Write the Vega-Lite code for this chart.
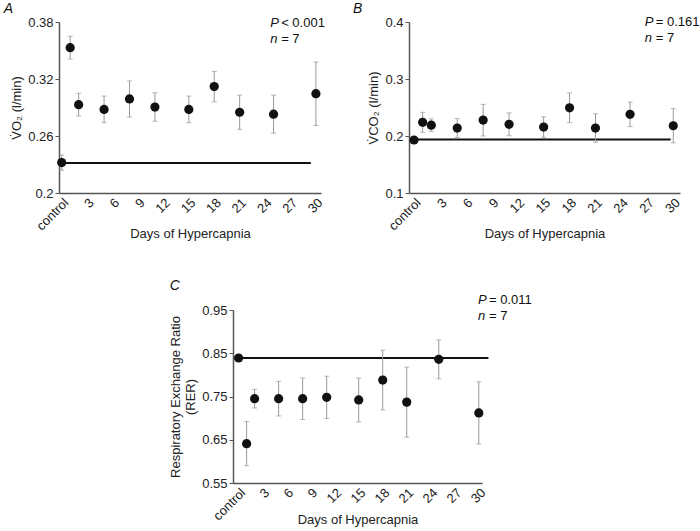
{
  "$schema": "https://vega.github.io/schema/vega-lite/v6.json",
  "padding": {"left": 3, "top": 2, "right": 0, "bottom": 0},
  "background": "white",
  "config": {
    "view": {"stroke": null},
    "font": "Liberation Sans",
    "axis": {"grid": false, "domainColor": "#555", "domainWidth": 1.5, "tickColor": "#555", "labelFont": "Liberation Sans", "labelFontSize": 13, "labelColor": "#222", "titleFont": "Liberation Sans", "titleFontSize": 13, "titleFontWeight": "normal", "titleColor": "#222"},
    "axisX": {"ticks": false, "labelAngle": -45, "labelPadding": 3, "titlePadding": -5},
    "axisY": {"tickSize": 4, "labelPadding": 2, "format": ".2~f"},
    "title": {"font": "Liberation Sans", "fontStyle": "italic", "fontWeight": "normal", "fontSize": 14, "anchor": "start", "frame": "bounds", "color": "#111"}
  },
  "datasets": {
    "ptsA": [
      {"day": 0, "val": 0.232, "lo": 0.224, "hi": 0.240},
      {"day": 1, "val": 0.353, "lo": 0.341, "hi": 0.365},
      {"day": 2, "val": 0.293, "lo": 0.281, "hi": 0.305},
      {"day": 5, "val": 0.288, "lo": 0.274, "hi": 0.302},
      {"day": 8, "val": 0.299, "lo": 0.280, "hi": 0.318},
      {"day": 11, "val": 0.2905, "lo": 0.2755, "hi": 0.3055},
      {"day": 15, "val": 0.288, "lo": 0.274, "hi": 0.302},
      {"day": 18, "val": 0.312, "lo": 0.296, "hi": 0.328},
      {"day": 21, "val": 0.285, "lo": 0.267, "hi": 0.303},
      {"day": 25, "val": 0.283, "lo": 0.263, "hi": 0.303},
      {"day": 30, "val": 0.3045, "lo": 0.271, "hi": 0.338}
    ],
    "ptsB": [
      {"day": 0, "val": 0.193, "lo": 0.189, "hi": 0.197},
      {"day": 1, "val": 0.224, "lo": 0.2065, "hi": 0.2415},
      {"day": 2, "val": 0.219, "lo": 0.208, "hi": 0.230},
      {"day": 5, "val": 0.214, "lo": 0.1975, "hi": 0.2305},
      {"day": 8, "val": 0.228, "lo": 0.200, "hi": 0.2555},
      {"day": 11, "val": 0.2205, "lo": 0.2005, "hi": 0.2405},
      {"day": 15, "val": 0.2157, "lo": 0.1977, "hi": 0.2337},
      {"day": 18, "val": 0.2495, "lo": 0.2235, "hi": 0.2755},
      {"day": 21, "val": 0.214, "lo": 0.189, "hi": 0.239},
      {"day": 25, "val": 0.238, "lo": 0.2165, "hi": 0.2595},
      {"day": 30, "val": 0.218, "lo": 0.188, "hi": 0.248}
    ],
    "ptsC": [
      {"day": 0, "val": 0.839, "lo": 0.834, "hi": 0.844},
      {"day": 1, "val": 0.641, "lo": 0.590, "hi": 0.692},
      {"day": 2, "val": 0.745, "lo": 0.7235, "hi": 0.7665},
      {"day": 5, "val": 0.745, "lo": 0.705, "hi": 0.785},
      {"day": 8, "val": 0.745, "lo": 0.697, "hi": 0.793},
      {"day": 11, "val": 0.748, "lo": 0.699, "hi": 0.797},
      {"day": 15, "val": 0.742, "lo": 0.691, "hi": 0.793},
      {"day": 18, "val": 0.788, "lo": 0.719, "hi": 0.857},
      {"day": 21, "val": 0.737, "lo": 0.656, "hi": 0.818},
      {"day": 25, "val": 0.836, "lo": 0.791, "hi": 0.881},
      {"day": 30, "val": 0.712, "lo": 0.640, "hi": 0.784}
    ],
    "base": [
      {"panel": "A", "day": 0, "day2": 29.4, "val": 0.2315},
      {"panel": "B", "day": 0, "day2": 29.7, "val": 0.194},
      {"panel": "C", "day": 0, "day2": 31.2, "val": 0.839}
    ],
    "ann": [
      {"panel": "A", "day": 24.6, "val": 0.379, "ital": "P", "rest": "< 0.001"},
      {"panel": "A", "day": 24.6, "val": 0.3626, "ital": "n", "rest": "= 7"},
      {"panel": "B", "day": 26.7, "val": 0.4, "ital": "P", "rest": "= 0.161"},
      {"panel": "B", "day": 26.7, "val": 0.372, "ital": "n", "rest": "= 7"},
      {"panel": "C", "day": 29.9, "val": 0.973, "ital": "P", "rest": "= 0.011"},
      {"panel": "C", "day": 29.9, "val": 0.936, "ital": "n", "rest": "= 7"}
    ]
  },
  "bounds": "flush",
  "spacing": 288,
  "vconcat": [
    {
      "bounds": "flush",
      "spacing": 88,
      "hconcat": [
        {
          "width": 262, "height": 171,
          "title": {"text": "A", "dx": -7, "offset": 0},
          "encoding": {
            "x": {"field": "day", "type": "quantitative", "title": "Days of Hypercapnia", "scale": {"domain": [-0.32, 30.6], "nice": false, "zero": false}, "axis": {"values": [0, 3, 6, 9, 12, 15, 18, 21, 24, 27, 30], "labelExpr": "datum.value === 0 ? 'control' : datum.label"}},
            "y": {"field": "val", "type": "quantitative", "title": "V\u0307O\u2082 (l/min)", "scale": {"domain": [0.2, 0.38], "nice": false, "zero": false}, "axis": {"values": [0.2, 0.26, 0.32, 0.38]}}
          },
          "layer": [
            {"data": {"name": "base"}, "transform": [{"filter": "datum.panel === 'A'"}], "mark": {"type": "rule", "color": "#111", "strokeWidth": 2}, "encoding": {"x2": {"field": "day2"}}},
            {"data": {"name": "ptsA"}, "mark": {"type": "errorbar", "color": "#999", "thickness": 1, "ticks": {"size": 5, "color": "#999", "thickness": 1}}, "encoding": {"y": {"field": "lo", "type": "quantitative", "title": "V\u0307O\u2082 (l/min)"}, "y2": {"field": "hi"}}},
            {"data": {"name": "ptsA"}, "mark": {"type": "circle", "size": 85, "color": "#111", "opacity": 1}},
            {"data": {"name": "ann"}, "transform": [{"filter": "datum.panel === 'A'"}], "mark": {"type": "text", "align": "left", "baseline": "middle", "fontSize": 13, "fontStyle": "italic", "color": "#111"}, "encoding": {"text": {"field": "ital"}}},
            {"data": {"name": "ann"}, "transform": [{"filter": "datum.panel === 'A'"}], "mark": {"type": "text", "align": "left", "baseline": "middle", "fontSize": 13, "dx": 11, "color": "#111"}, "encoding": {"text": {"field": "rest"}}}
          ]
        },
        {
          "width": 271, "height": 171,
          "title": {"text": "B", "dx": -15, "offset": 0},
          "encoding": {
            "x": {"field": "day", "type": "quantitative", "title": "Days of Hypercapnia", "scale": {"domain": [-0.58, 30.78], "nice": false, "zero": false}, "axis": {"values": [0, 3, 6, 9, 12, 15, 18, 21, 24, 27, 30], "labelExpr": "datum.value === 0 ? 'control' : datum.label"}},
            "y": {"field": "val", "type": "quantitative", "title": "V\u0307CO\u2082 (l/min)", "scale": {"domain": [0.1, 0.4], "nice": false, "zero": false}, "axis": {"values": [0.1, 0.2, 0.3, 0.4]}}
          },
          "layer": [
            {"data": {"name": "base"}, "transform": [{"filter": "datum.panel === 'B'"}], "mark": {"type": "rule", "color": "#111", "strokeWidth": 2}, "encoding": {"x2": {"field": "day2"}}},
            {"data": {"name": "ptsB"}, "mark": {"type": "errorbar", "color": "#999", "thickness": 1, "ticks": {"size": 5, "color": "#999", "thickness": 1}}, "encoding": {"y": {"field": "lo", "type": "quantitative", "title": "V\u0307CO\u2082 (l/min)"}, "y2": {"field": "hi"}}},
            {"data": {"name": "ptsB"}, "mark": {"type": "circle", "size": 85, "color": "#111", "opacity": 1}},
            {"data": {"name": "ann"}, "transform": [{"filter": "datum.panel === 'B'"}], "mark": {"type": "text", "align": "left", "baseline": "middle", "fontSize": 13, "fontStyle": "italic", "color": "#111"}, "encoding": {"text": {"field": "ital"}}},
            {"data": {"name": "ann"}, "transform": [{"filter": "datum.panel === 'B'"}], "mark": {"type": "text", "align": "left", "baseline": "middle", "fontSize": 13, "dx": 11, "color": "#111"}, "encoding": {"text": {"field": "rest"}}}
          ]
        }
      ]
    },
    {
      "bounds": "flush",
      "spacing": 0,
      "hconcat": [
        {"width": 174, "height": 173, "data": {"values": [{"a": 1}]}, "mark": {"type": "point", "opacity": 0}, "encoding": {}},
        {
          "width": 249, "height": 173,
          "title": {"text": "C", "dx": 0, "offset": 1},
          "encoding": {
            "x": {"field": "day", "type": "quantitative", "title": "Days of Hypercapnia", "scale": {"domain": [-0.7, 30.4], "nice": false, "zero": false}, "axis": {"values": [0, 3, 6, 9, 12, 15, 18, 21, 24, 27, 30], "labelExpr": "datum.value === 0 ? 'control' : datum.label", "titlePadding": -9}},
            "y": {"field": "val", "type": "quantitative", "title": ["Respiratory Exchange Ratio", "(RER)"], "scale": {"domain": [0.55, 0.95], "nice": false, "zero": false}, "axis": {"values": [0.55, 0.65, 0.75, 0.85, 0.95]}}
          },
          "layer": [
            {"data": {"name": "base"}, "transform": [{"filter": "datum.panel === 'C'"}], "mark": {"type": "rule", "color": "#111", "strokeWidth": 2}, "encoding": {"x2": {"field": "day2"}}},
            {"data": {"name": "ptsC"}, "mark": {"type": "errorbar", "color": "#999", "thickness": 1, "ticks": {"size": 5, "color": "#999", "thickness": 1}}, "encoding": {"y": {"field": "lo", "type": "quantitative", "title": ["Respiratory Exchange Ratio", "(RER)"]}, "y2": {"field": "hi"}}},
            {"data": {"name": "ptsC"}, "mark": {"type": "circle", "size": 85, "color": "#111", "opacity": 1}},
            {"data": {"name": "ann"}, "transform": [{"filter": "datum.panel === 'C'"}], "mark": {"type": "text", "align": "left", "baseline": "middle", "fontSize": 13, "fontStyle": "italic", "color": "#111"}, "encoding": {"text": {"field": "ital"}}},
            {"data": {"name": "ann"}, "transform": [{"filter": "datum.panel === 'C'"}], "mark": {"type": "text", "align": "left", "baseline": "middle", "fontSize": 13, "dx": 11, "color": "#111"}, "encoding": {"text": {"field": "rest"}}}
          ]
        }
      ]
    }
  ]
}
